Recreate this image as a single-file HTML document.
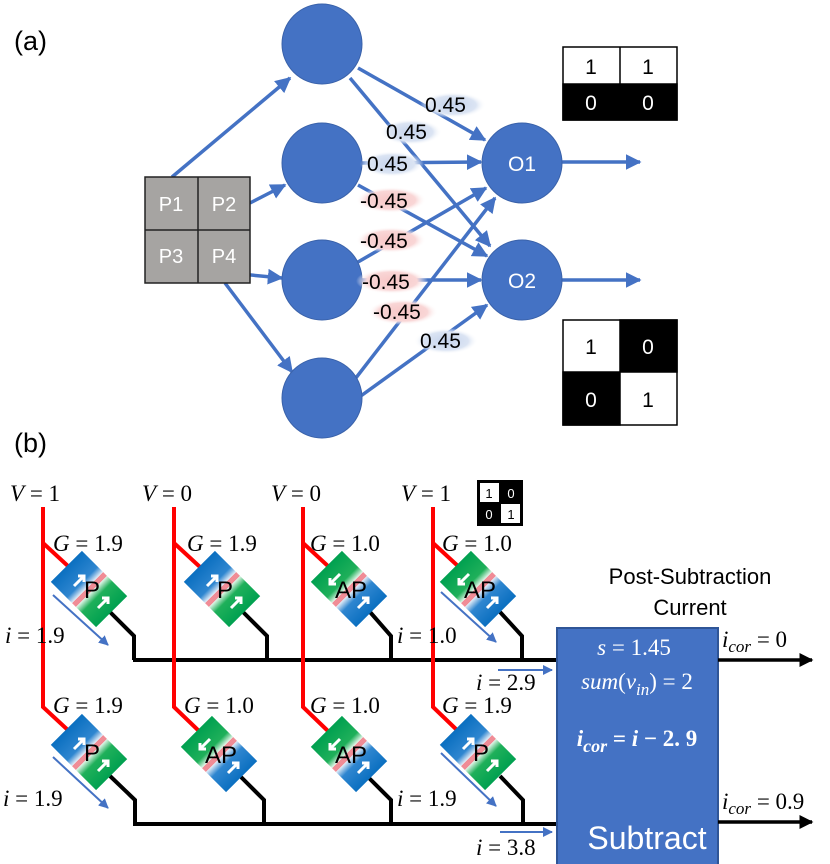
<!DOCTYPE html>
<html><head><meta charset="utf-8"><style>
html,body{margin:0;padding:0;background:#fff;}
svg{display:block;}
.s{font-family:"Liberation Sans",sans-serif;}
.m{font-family:"Liberation Serif",serif;font-size:23px;white-space:pre;}
.w{font-family:"Liberation Sans",sans-serif;font-size:21px;fill:#000;}
</style></head><body>
<svg width="830" height="864" viewBox="0 0 830 864" xmlns="http://www.w3.org/2000/svg">
<defs>
<marker id="ab" viewBox="0 0 10 10" refX="9" refY="5" markerWidth="4.5" markerHeight="4.5" orient="auto"><path d="M0,0L10,5L0,10z" fill="#4472c4"/></marker>
<marker id="ak" viewBox="0 0 10 10" refX="9" refY="5" markerWidth="4" markerHeight="4" orient="auto"><path d="M0,0L10,5L0,10z" fill="#000"/></marker>
<marker id="at" viewBox="0 0 10 10" refX="9" refY="5" markerWidth="5" markerHeight="5" orient="auto"><path d="M0,0L10,5L0,10z" fill="#4472c4"/></marker>
<linearGradient id="gP" x1="0" y1="0" x2="1" y2="0">
<stop offset="0" stop-color="#0a6fc0"/><stop offset="0.35" stop-color="#2f86d0"/><stop offset="0.47" stop-color="#e9f0f8"/><stop offset="0.47" stop-color="#f08c96"/><stop offset="0.55" stop-color="#f08c96"/><stop offset="0.55" stop-color="#e9f8ee"/><stop offset="0.68" stop-color="#1fb05a"/><stop offset="1" stop-color="#00a050"/></linearGradient>
<linearGradient id="gA" x1="0" y1="0" x2="1" y2="0">
<stop offset="0" stop-color="#00a050"/><stop offset="0.35" stop-color="#1fb05a"/><stop offset="0.47" stop-color="#e9f8ee"/><stop offset="0.47" stop-color="#f08c96"/><stop offset="0.55" stop-color="#f08c96"/><stop offset="0.55" stop-color="#e9f0f8"/><stop offset="0.68" stop-color="#2f86d0"/><stop offset="1" stop-color="#0a6fc0"/></linearGradient>
<radialGradient id="bb"><stop offset="0" stop-color="#c5d3ec"/><stop offset="0.7" stop-color="#dbe4f3"/><stop offset="1" stop-color="#fff" stop-opacity="0"/></radialGradient>
<radialGradient id="rb"><stop offset="0" stop-color="#f7c6c6"/><stop offset="0.7" stop-color="#f9d6d6"/><stop offset="1" stop-color="#fff" stop-opacity="0"/></radialGradient>
</defs>

<text x="14" y="50" class="s" font-size="27">(a)</text>
<text x="14" y="452" class="s" font-size="27">(b)</text>

<g stroke="#4472c4" stroke-width="3.5" fill="none" marker-end="url(#ab)">
<line x1="172" y1="177" x2="290" y2="78"/>
<line x1="250" y1="203" x2="285" y2="185"/>
<line x1="198" y1="270" x2="282" y2="278"/>
<line x1="225" y1="283" x2="292" y2="372"/>
<line x1="358" y1="68" x2="485" y2="140"/>
<line x1="350" y1="78" x2="490" y2="246"/>
<line x1="362" y1="163" x2="481" y2="162"/>
<line x1="358" y1="185" x2="487" y2="256"/>
<line x1="358" y1="262" x2="486" y2="188"/>
<line x1="362" y1="280" x2="481" y2="280"/>
<line x1="352" y1="383" x2="495" y2="198"/>
<line x1="358" y1="398" x2="487" y2="305"/>
<line x1="562" y1="162" x2="640" y2="162"/>
<line x1="562" y1="280" x2="640" y2="280"/>
</g>
<g fill="#4472c4" stroke="#3a62aa" stroke-width="1">
<circle cx="322" cy="44" r="40"/><circle cx="322" cy="163" r="40"/><circle cx="322" cy="280" r="40"/><circle cx="322" cy="398" r="40"/>
<circle cx="522" cy="163" r="40"/><circle cx="522" cy="280" r="40"/>
</g>
<text x="522" y="171" class="s" font-size="21" fill="#fff" text-anchor="middle">O1</text>
<text x="522" y="288" class="s" font-size="21" fill="#fff" text-anchor="middle">O2</text>
<rect x="145" y="177" width="105" height="106" fill="#a6a4a2" stroke="#222" stroke-width="1.5"/>
<line x1="198" y1="177" x2="198" y2="283" stroke="#222" stroke-width="1.5"/>
<line x1="145" y1="230" x2="250" y2="230" stroke="#222" stroke-width="1.5"/>
<g class="s" font-size="20" fill="#fff" text-anchor="middle">
<text x="171" y="211">P1</text><text x="224" y="211">P2</text><text x="171" y="263">P3</text><text x="224" y="263">P4</text></g>
<g>
<rect x="420" y="92" width="66" height="26" fill="url(#bb)"/>
<rect x="380" y="119" width="62" height="26" fill="url(#bb)"/>
<rect x="360" y="151" width="64" height="26" fill="url(#bb)"/>
<rect x="356" y="187" width="70" height="26" fill="url(#rb)"/>
<rect x="356" y="227" width="70" height="26" fill="url(#rb)"/>
<rect x="356" y="268" width="72" height="26" fill="url(#rb)"/>
<rect x="368" y="299" width="70" height="26" fill="url(#rb)"/>
<rect x="414" y="328" width="64" height="26" fill="url(#bb)"/>
</g>
<g class="w">
<text x="425" y="112">0.45</text>
<text x="386" y="139">0.45</text>
<text x="367" y="171">0.45</text>
<text x="360" y="208">-0.45</text>
<text x="360" y="248">-0.45</text>
<text x="362" y="289">-0.45</text>
<text x="373" y="319">-0.45</text>
<text x="420" y="348">0.45</text>
</g>
<g stroke="#000" stroke-width="1.5">
<rect x="563" y="47" width="114" height="73" fill="#fff"/>
<rect x="563" y="84" width="114" height="36" fill="#000"/>
<line x1="620" y1="47" x2="620" y2="84"/>
<rect x="563" y="320" width="114" height="105" fill="#fff"/>
<rect x="620" y="320" width="57" height="52" fill="#000"/>
<rect x="563" y="372" width="57" height="53" fill="#000"/>
</g>
<g class="s" font-size="21" text-anchor="middle">
<text x="591" y="74">1</text><text x="648" y="74">1</text>
<text x="591" y="110" fill="#fff">0</text><text x="648" y="110" fill="#fff">0</text>
<text x="591" y="354">1</text><text x="648" y="354" fill="#fff">0</text>
<text x="591" y="407" fill="#fff">0</text><text x="648" y="407">1</text>
</g>

<g class="m" font-size="24">
<text x="10" y="501"><tspan font-style="italic">V</tspan>  =  1</text>
<text x="142" y="501"><tspan font-style="italic">V</tspan>  =  0</text>
<text x="271" y="501"><tspan font-style="italic">V</tspan>  =  0</text>
<text x="401" y="501"><tspan font-style="italic">V</tspan>  =  1</text>
</g>
<rect x="477" y="480" width="46" height="46" fill="#000"/>
<rect x="480" y="483" width="19" height="19" fill="#fff"/>
<rect x="501" y="504" width="19" height="19" fill="#fff"/>
<g class="s" font-size="13" text-anchor="middle">
<text x="489" y="498">1</text><text x="511" y="498" fill="#fff">0</text>
<text x="489" y="519" fill="#fff">0</text><text x="511" y="519">1</text></g>

<g stroke="#000" stroke-width="4" fill="none">
<polyline points="110,612 134,636 134,660"/>
<polyline points="243,612 267,636 267,660"/>
<polyline points="370,612 391,636 391,660"/>
<polyline points="500,612 522,636 522,660"/>
<polyline points="110,776 135,800 135,824"/>
<polyline points="240,776 264,800 264,824"/>
<polyline points="367,776 391,800 391,824"/>
<polyline points="500,776 523,800 523,824"/>
<line x1="133" y1="660" x2="557" y2="660"/>
<line x1="133" y1="824" x2="557" y2="824"/>
</g>
<g stroke="#f00" stroke-width="4" fill="none">
<polyline points="43,507 43,707 70,732"/>
<line x1="43" y1="543" x2="69" y2="567"/>
<polyline points="174,507 174,707 200,732"/>
<line x1="174" y1="543" x2="200" y2="567"/>
<polyline points="303,507 303,707 329,732"/>
<line x1="303" y1="543" x2="329" y2="567"/>
<polyline points="433,507 433,707 459,732"/>
<line x1="433" y1="543" x2="459" y2="567"/>
</g>
<g>
<g transform="translate(89,589) rotate(45)"><rect x="-32" y="-22" width="64" height="44" fill="url(#gP)"/></g>
<g transform="translate(222,589) rotate(45)"><rect x="-32" y="-22" width="64" height="44" fill="url(#gP)"/></g>
<g transform="translate(349,589) rotate(45)"><rect x="-32" y="-22" width="64" height="44" fill="url(#gA)"/></g>
<g transform="translate(478,589) rotate(45)"><rect x="-32" y="-22" width="64" height="44" fill="url(#gA)"/></g>
<g transform="translate(89,752) rotate(45)"><rect x="-32" y="-22" width="64" height="44" fill="url(#gP)"/></g>
<g transform="translate(219,754) rotate(45)"><rect x="-32" y="-22" width="64" height="44" fill="url(#gA)"/></g>
<g transform="translate(349,754) rotate(45)"><rect x="-32" y="-22" width="64" height="44" fill="url(#gA)"/></g>
<g transform="translate(478,752) rotate(45)"><rect x="-32" y="-22" width="64" height="44" fill="url(#gP)"/></g>
</g>
<g stroke="#fff" stroke-width="3" fill="none">
<path d="M74,586 l10,-10 m-6,0 h6 v6"/><path d="M98,608 l10,-10 m-6,0 h6 v6"/>
<path d="M207,586 l10,-10 m-6,0 h6 v6"/><path d="M231,608 l10,-10 m-6,0 h6 v6"/>
<path d="M74,749 l10,-10 m-6,0 h6 v6"/><path d="M98,771 l10,-10 m-6,0 h6 v6"/>
<path d="M463,749 l10,-10 m-6,0 h6 v6"/><path d="M487,771 l10,-10 m-6,0 h6 v6"/>
<path d="M340,574 l-10,10 m0,-6 v6 h6"/><path d="M358,608 l10,-10 m-6,0 h6 v6"/>
<path d="M469,574 l-10,10 m0,-6 v6 h6"/><path d="M487,608 l10,-10 m-6,0 h6 v6"/>
<path d="M210,739 l-10,10 m0,-6 v6 h6"/><path d="M228,773 l10,-10 m-6,0 h6 v6"/>
<path d="M340,739 l-10,10 m0,-6 v6 h6"/><path d="M358,773 l10,-10 m-6,0 h6 v6"/>
</g>
<g class="s" font-size="24" fill="#000" text-anchor="middle">
<text x="92" y="598">P</text><text x="225" y="598">P</text>
<text x="351" y="598">AP</text><text x="480" y="598">AP</text>
<text x="92" y="761">P</text><text x="221" y="763">AP</text>
<text x="351" y="763">AP</text><text x="481" y="761">P</text>
</g>
<g class="m" font-size="22">
<text x="53" y="551"><tspan font-style="italic">G</tspan>  =  1.9</text>
<text x="187" y="551"><tspan font-style="italic">G</tspan>  =  1.9</text>
<text x="310" y="551"><tspan font-style="italic">G</tspan>  =  1.0</text>
<text x="442" y="551"><tspan font-style="italic">G</tspan>  =  1.0</text>
<text x="53" y="713"><tspan font-style="italic">G</tspan>  =  1.9</text>
<text x="184" y="713"><tspan font-style="italic">G</tspan>  =  1.0</text>
<text x="310" y="713"><tspan font-style="italic">G</tspan>  =  1.0</text>
<text x="442" y="713"><tspan font-style="italic">G</tspan>  =  1.9</text>
<text x="5" y="643"><tspan font-style="italic">i</tspan>  =  1.9</text>
<text x="397" y="643"><tspan font-style="italic">i</tspan>  =  1.0</text>
<text x="3" y="806"><tspan font-style="italic">i</tspan>  =  1.9</text>
<text x="397" y="806"><tspan font-style="italic">i</tspan>  =  1.9</text>
<text x="476" y="690"><tspan font-style="italic">i</tspan>  =  2.9</text>
<text x="476" y="855"><tspan font-style="italic">i</tspan>  =  3.8</text>
</g>
<g stroke="#4472c4" stroke-width="2" fill="none" marker-end="url(#at)">
<line x1="53" y1="595" x2="108" y2="645"/>
<line x1="441" y1="592" x2="496" y2="642"/>
<line x1="53" y1="757" x2="108" y2="808"/>
<line x1="441" y1="753" x2="496" y2="806"/>
<line x1="498" y1="670" x2="552" y2="670"/>
<line x1="500" y1="832" x2="552" y2="832"/>
</g>
<rect x="557" y="628" width="161" height="240" fill="#4472c4" stroke="#2f5597" stroke-width="2"/>
<g fill="#fff" text-anchor="middle" class="m" font-size="25">
<text x="634" y="655"><tspan font-style="italic">s</tspan>  =  1.45</text>
<text x="637" y="689"><tspan font-style="italic">sum</tspan>(<tspan font-style="italic">v<tspan font-size="17" dy="6">in</tspan></tspan><tspan dy="-6">)  =  2</tspan></text>
<text x="637" y="746" font-weight="bold"><tspan font-style="italic">i<tspan font-size="18" dy="6">cor</tspan></tspan><tspan dy="-6">  =  </tspan><tspan font-style="italic">i</tspan> − 2. 9</text>
</g>
<text x="647" y="849" class="s" font-size="32" fill="#fff" text-anchor="middle">Subtract</text>
<g class="s" font-size="22" text-anchor="middle">
<text x="690" y="584">Post-Subtraction</text>
<text x="690" y="615">Current</text></g>
<g stroke="#000" stroke-width="3.5" marker-end="url(#ak)">
<line x1="718" y1="660" x2="812" y2="660"/>
<line x1="718" y1="822" x2="812" y2="822"/>
</g>
<g class="m">
<text x="722" y="647"><tspan font-style="italic">i<tspan font-size="17" dy="5">cor</tspan></tspan><tspan dy="-5">  =  0</tspan></text>
<text x="722" y="809"><tspan font-style="italic">i<tspan font-size="17" dy="5">cor</tspan></tspan><tspan dy="-5">  =  0.9</tspan></text>
</g>
</svg>
</body></html>
